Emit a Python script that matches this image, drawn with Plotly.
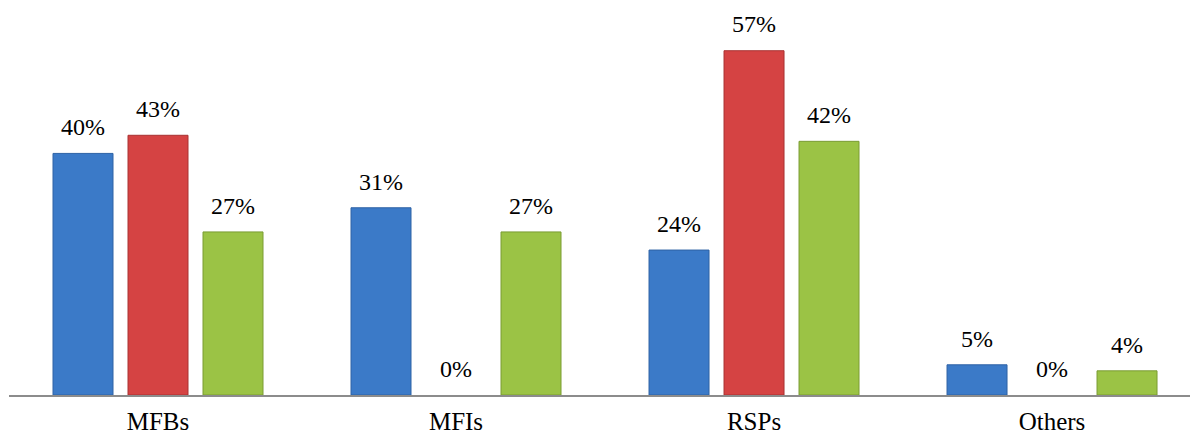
import plotly.graph_objects as go

categories = ["MFBs", "MFIs", "RSPs", "Others"]
series_a = [40, 31, 24, 5]
series_b = [43, 0, 57, 0]
series_c = [27, 27, 42, 4]
series_values = [series_a, series_b, series_c]
series_names = ["Series 1", "Series 2", "Series 3"]
colors = ["#3B7AC8", "#D54343", "#9BC345"]
edge_colors = ["#2E62A5", "#A93232", "#7A9C33"]
FONT = "Liberation Serif, Times New Roman, serif"

fig = go.Figure()
for i, (name, vals) in enumerate(zip(series_names, series_values)):
    fig.add_trace(go.Bar(
        x=categories, y=vals, name=name, offsetgroup=str(i),
        marker=dict(color=colors[i],
                    line=dict(color=edge_colors[i], width=[1 if v > 0 else 0 for v in vals])),
        hoverinfo="skip", showlegend=False,
    ))
for i, (name, vals) in enumerate(zip(series_names, series_values)):
    fig.add_trace(go.Scatter(
        x=categories, y=vals, offsetgroup=str(i), mode="markers+text",
        text=[f"{v}%" for v in vals], textposition="top center",
        marker=dict(size=18, opacity=0),
        textfont=dict(family=FONT, size=24, color="#000000"),
        hoverinfo="skip", showlegend=False, cliponaxis=False,
    ))

fig.update_layout(
    width=1190, height=438,
    margin=dict(l=9, r=0, t=0, b=43, autoexpand=False),
    paper_bgcolor="white", plot_bgcolor="white",
    barmode="group", bargap=0.245, bargroupgap=0.2,
    scattermode="group", scattergap=0.245,
    xaxis=dict(
        range=[-0.5, 3.463], showgrid=False, zeroline=False, automargin=False,
        showline=True, linecolor="#8C8C8C", linewidth=2,
        ticks="", ticklabelstandoff=3,
        tickfont=dict(family=FONT, size=25, color="#000000"),
    ),
    yaxis=dict(range=[0, 65.4], visible=False, automargin=False),
)
fig.write_html("out.html")
